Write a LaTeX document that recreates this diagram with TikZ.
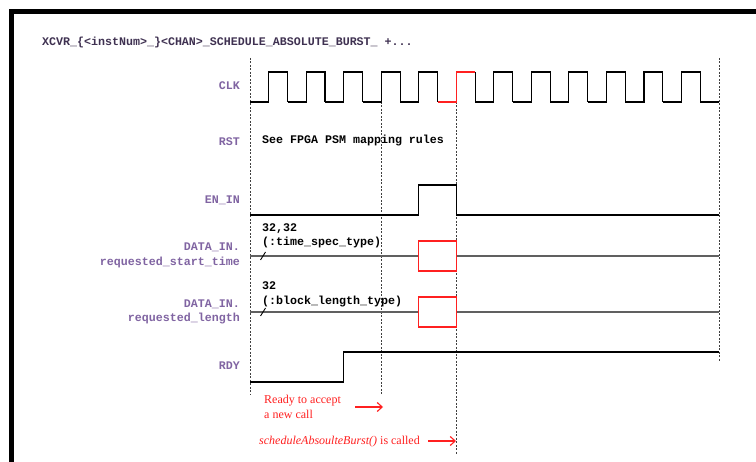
\documentclass[tikz,border=0pt]{standalone}
\usepackage{fontspec}
\setmainfont{Liberation Serif}
\setmonofont{Liberation Mono}
\usetikzlibrary{arrows.meta}
\definecolor{lblpurple}{HTML}{8064A2}
\definecolor{titlecol}{HTML}{3F3151}
\definecolor{sigred}{HTML}{FF2020}
\definecolor{datagray}{HTML}{606060}
\definecolor{gridgray}{HTML}{404040}
\begin{document}
\begin{tikzpicture}[x=1pt,y=-1pt,
  mono/.style={font=\fontsize{11.65}{14}\selectfont\ttfamily\bfseries, inner sep=0pt},
  siglabel/.style={mono, text=lblpurple, anchor=mid east},
  datatext/.style={mono, text=black, anchor=mid west},
  note/.style={font=\fontsize{12}{14}\selectfont, text=sigred, inner sep=0pt, anchor=mid west},
  wave/.style={line width=1.1pt, black},
  redwave/.style={line width=1.1pt, sigred},
  datawave/.style={line width=1.1pt, datagray},
  guide/.style={line width=0.8pt, gridgray, dash pattern=on 2pt off 1.5pt},
  notearrow/.style={line width=1.1pt, sigred, -{Straight Barb[length=5pt,width=9pt]}},
  frame/.style={line width=5pt, black}
]
\useasboundingbox (0,0) rectangle (756,462);
\fill[white] (0,0) rectangle (756,462);
% frame
\draw[frame] (11.5,462) -- (11.5,11.5) -- (756,11.5);

% title
\node[mono, text=titlecol, anchor=mid west] (title) at (42,43) {XCVR\_\{<instNum>\_\}<CHAN>\_SCHEDULE\_ABSOLUTE\_BURST\_ +...};

% guides
\coordinate (g1t) at (250,58);  \coordinate (g1b) at (250,395);
\coordinate (g2t) at (381.3,102); \coordinate (g2b) at (381.3,395);
\coordinate (g3t) at (456.4,102); \coordinate (g3b) at (456.4,455);
\coordinate (g4t) at (719,58);  \coordinate (g4b) at (719,362);
\draw[guide] (g1t) -- (g1b);
\draw[guide] (g2t) -- (g2b);
\draw[guide] (g3t) -- (g3b);
\draw[guide] (g4t) -- (g4b);

% labels
\node[siglabel] (lclk) at (240,87) {CLK};
\node[siglabel] (lrst) at (240,143) {RST};
\node[siglabel] (len) at (240,201) {EN\_IN};
\node[siglabel] (ld1a) at (240,248) {DATA\_IN.};
\node[siglabel] (ld1b) at (240,263) {requested\_start\_time};
\node[siglabel] (ld2a) at (240,305) {DATA\_IN.};
\node[siglabel] (ld2b) at (240,319.5) {requested\_length};
\node[siglabel] (lrdy) at (240,367) {RDY};

% clock
\def\hp{18.76}
\foreach \k in {0,...,11}{
  \ifnum\k=5
    \draw[redwave] ({250+2*\k*\hp},102) -- ++(\hp,0) -- ++(0,-30) -- ++(\hp,0);
    \draw[wave] ({250+(2*\k+2)*\hp},72) -- ++(0,30);
  \else
    \draw[wave] ({250+2*\k*\hp},102) -- ++(\hp,0) -- ++(0,-30) -- ++(\hp,0) -- ++(0,30);
  \fi
}
\draw[wave] ({250+24*\hp},102) -- (719,102);

% RST
\node[datatext] (rsttxt) at (262,141) {See FPGA PSM mapping rules};

% EN_IN
\draw[wave] (250,215) -- ({250+9*\hp},215) -- ({250+9*\hp},185) -- ({250+11*\hp},185) -- ({250+11*\hp},215) -- (719,215);

% DATA_IN requested_start_time
\draw[datawave] (250,256) -- ({250+9*\hp},256);
\draw[datawave] ({250+11*\hp},256) -- (719,256);
\draw[redwave] ({250+9*\hp},241) rectangle ({250+11*\hp},271);
\draw[line width=0.9pt, black] (260.5,260) -- (265.5,252);
\node[datatext] (d1a) at (262,229) {32,32};
\node[datatext] (d1b) at (262,243) {(:time\_spec\_type)};

% DATA_IN requested_length
\draw[datawave] (250,312) -- ({250+9*\hp},312);
\draw[datawave] ({250+11*\hp},312) -- (719,312);
\draw[redwave] ({250+9*\hp},297) rectangle ({250+11*\hp},327);
\draw[line width=0.9pt, black] (260.5,316) -- (265.5,308);
\node[datatext] (d2a) at (262,287) {32};
\node[datatext] (d2b) at (262,302) {(:block\_length\_type)};

% RDY
\draw[wave] (250,382) -- ({250+5*\hp},382) -- ({250+5*\hp},352) -- (719,352);

% notes
\node[note] (n1a) at (264,401) {Ready to accept};
\node[note] (n1b) at (264,416) {a new call};
\coordinate (a1s) at (355,407);
\coordinate (a1e) at (383,407);
\draw[notearrow] (a1s) -- (a1e);
\node[note] (n2) at (259,442) {\textit{scheduleAbsoulteBurst()} is called};
\coordinate (a2s) at (428,441);
\coordinate (a2e) at (456,441);
\draw[notearrow] (a2s) -- (a2e);
\end{tikzpicture}
\end{document}
